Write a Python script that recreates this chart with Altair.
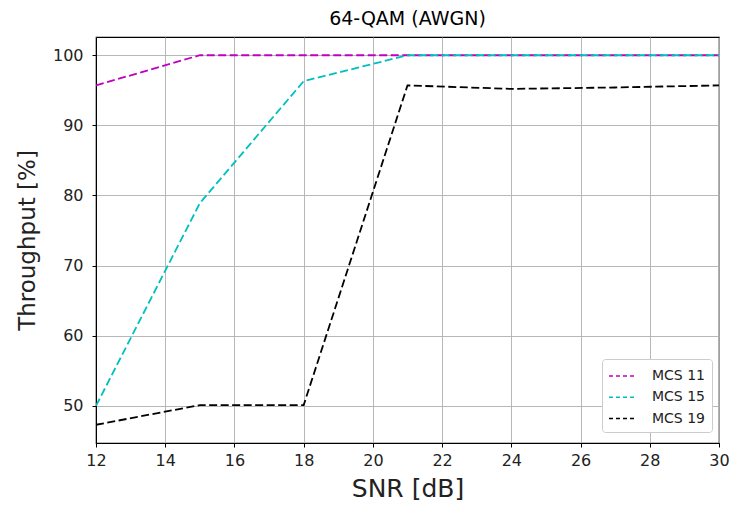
import altair as alt
import pandas as pd

snr = [12, 15, 18, 21, 24, 27, 30]
mcs11 = [95.7, 100, 100, 100, 100, 100, 100]
mcs15 = [50.0, 78.9, 96.3, 100, 100, 100, 100]
mcs19 = [47.3, 50.1, 50.1, 95.7, 95.2, 95.4, 95.7]
series_names = ["MCS 11", "MCS 15", "MCS 19"]
series_colors = ["#bf00bf", "#00bfbf", "#000000"]

rows = []
for name, vals in zip(series_names, [mcs11, mcs15, mcs19]):
    for x, y in zip(snr, vals):
        rows.append({"SNR": x, "Throughput": y, "Series": name})
df = pd.DataFrame(rows)

FONT = "DejaVu Sans"

chart = alt.Chart(df).mark_line(strokeDash=[8, 3.5], strokeWidth=1.8, clip=True).encode(
    x=alt.X("SNR:Q",
            scale=alt.Scale(domain=[12, 30], nice=False, zero=False),
            axis=alt.Axis(title="SNR [dB]", values=list(range(12, 31, 2)),
                          titleFontSize=25, titleFontWeight="normal",
                          titleY=45, titleBaseline="middle",
                          labelFontSize=16, labelPadding=5, labelFlush=False)),
    y=alt.Y("Throughput:Q",
            scale=alt.Scale(domain=[44.7, 102.6], nice=False, zero=False),
            axis=alt.Axis(title="Throughput [%]", values=[50, 60, 70, 80, 90, 100],
                          titleFontSize=23, titleFontWeight="normal",
                          titleX=-69, titleY=203, titleAlign="center",
                          titleBaseline="middle", titleAngle=-90,
                          labelFontSize=16, labelPadding=9, labelFlush=False)),
    color=alt.Color("Series:N",
                    scale=alt.Scale(domain=series_names, range=series_colors),
                    legend=alt.Legend(title=None, orient="none", legendX=506, legendY=322,
                                      symbolType="M-1,0L1.8,0", symbolDash=[4, 3],
                                      symbolStrokeWidth=1.5, symbolSize=400,
                                      symbolFillColor="transparent",
                                      labelFontSize=14, labelOffset=22, rowPadding=3.3,
                                      padding=6, fillColor="white",
                                      strokeColor="#cccccc", cornerRadius=3)),
).properties(
    width=623, height=406,
    title=alt.TitleParams("64-QAM (AWGN)", fontSize=19, fontWeight="normal",
                          font=FONT, offset=8, color="#000000"),
    autosize=alt.AutoSizeParams(type="none"),
    padding={"left": 88, "top": 29, "right": 10, "bottom": 60},
).configure(font=FONT).configure_view(
    stroke="#000000", strokeWidth=1.2
).configure_axis(
    domainColor="#000000", tickColor="#000000", tickSize=4,
    gridColor="#b0b0b0", gridWidth=0.9,
    labelColor="#222222", titleColor="#222222", labelFont=FONT, titleFont=FONT
).configure_legend(labelFont=FONT, labelColor="#222222")

chart.save("out.html", embed_options={"renderer": "svg", "actions": False})
